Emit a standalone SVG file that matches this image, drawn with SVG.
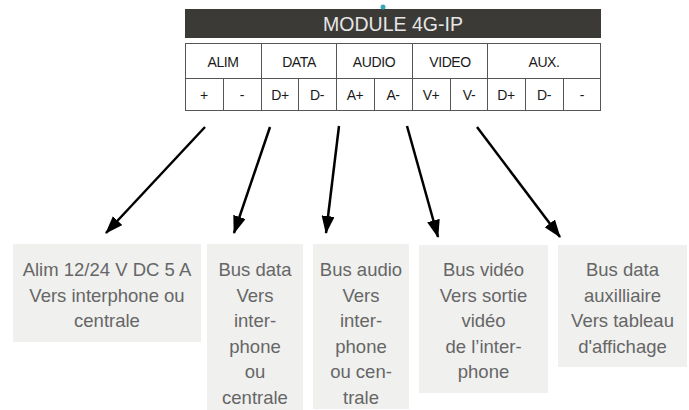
<svg xmlns="http://www.w3.org/2000/svg" width="689" height="410" viewBox="0 0 689 410">
<style>
.cell{fill:#fff;stroke:#555;stroke-width:1}
.tt{font-family:"Liberation Sans",Arial,sans-serif;font-size:14px;fill:#1a1a1a;text-anchor:middle;letter-spacing:-0.4px}
.bx{fill:#f0f0ef}
.bt{font-family:"Liberation Sans",Arial,sans-serif;font-size:18.5px;fill:#666;text-anchor:middle}
.ar{stroke:#000;stroke-width:2.5;fill:none;marker-end:url(#ah)}
</style>
<defs>
<marker id="ah" markerUnits="userSpaceOnUse" viewBox="0 0 18 13" refX="17" refY="6.5" markerWidth="18" markerHeight="13" orient="auto">
<path d="M0,0 L18,6.5 L0,13 Z" fill="#000"/>
</marker>
</defs>
<rect width="689" height="410" fill="#fff"/>
<g id="module">
<rect x="185" y="9" width="416" height="29" fill="#3b3a36"/>
<text x="393" y="31" font-family="Liberation Sans,Arial,sans-serif" font-size="19.5" fill="#e6e6e6" text-anchor="middle">MODULE 4G-IP</text>
<circle cx="383" cy="7" r="2.5" fill="#3aa6b9"/>
</g>
<g id="table">
<rect class="cell" x="185.5" y="43.5" width="415" height="67"/>
<line x1="185.5" y1="78.5" x2="600.5" y2="78.5" stroke="#555"/>
<g stroke="#555" stroke-width="1">
<line x1="261.5" y1="43.5" x2="261.5" y2="110.5"/>
<line x1="336.5" y1="43.5" x2="336.5" y2="110.5"/>
<line x1="412.5" y1="43.5" x2="412.5" y2="110.5"/>
<line x1="487.5" y1="43.5" x2="487.5" y2="110.5"/>
<line x1="223.5" y1="78.5" x2="223.5" y2="110.5"/>
<line x1="298.5" y1="78.5" x2="298.5" y2="110.5"/>
<line x1="374.5" y1="78.5" x2="374.5" y2="110.5"/>
<line x1="450.5" y1="78.5" x2="450.5" y2="110.5"/>
<line x1="525.5" y1="78.5" x2="525.5" y2="110.5"/>
<line x1="563.5" y1="78.5" x2="563.5" y2="110.5"/>
</g>
<text class="tt" x="223" y="67">ALIM</text>
<text class="tt" x="299" y="67">DATA</text>
<text class="tt" x="374" y="67">AUDIO</text>
<text class="tt" x="450" y="67">VIDEO</text>
<text class="tt" x="544" y="67">AUX.</text>
<text class="tt" x="204" y="100">+</text>
<text class="tt" x="242" y="100">-</text>
<text class="tt" x="280" y="100">D+</text>
<text class="tt" x="317" y="100">D-</text>
<text class="tt" x="355" y="100">A+</text>
<text class="tt" x="393" y="100">A-</text>
<text class="tt" x="431" y="100">V+</text>
<text class="tt" x="469" y="100">V-</text>
<text class="tt" x="506" y="100">D+</text>
<text class="tt" x="544" y="100">D-</text>
<text class="tt" x="582" y="100">-</text>
</g>
<g id="connectors">
<line class="ar" x1="205" y1="127" x2="106" y2="233"/>
<line class="ar" x1="270" y1="127" x2="234" y2="233"/>
<line class="ar" x1="339" y1="126" x2="326" y2="233"/>
<line class="ar" x1="407" y1="126" x2="438" y2="237"/>
<line class="ar" x1="477" y1="127" x2="560" y2="237"/>
</g>
<g id="box-alim">
<rect class="bx" x="13" y="244" width="188" height="98"/>
<text class="bt" x="107" y="276">Alim 12/24 V DC 5 A</text>
<text class="bt" x="107" y="301.5">Vers interphone ou</text>
<text class="bt" x="107" y="327">centrale</text>
</g>
<g id="box-data">
<rect class="bx" x="207" y="244" width="96" height="166"/>
<text class="bt" x="255" y="276">Bus data</text>
<text class="bt" x="255" y="301.5">Vers</text>
<text class="bt" x="255" y="327">inter-</text>
<text class="bt" x="255" y="352.5">phone</text>
<text class="bt" x="255" y="378">ou</text>
<text class="bt" x="255" y="403.5">centrale</text>
</g>
<g id="box-audio">
<rect class="bx" x="313" y="244" width="96" height="165"/>
<text class="bt" x="361" y="276">Bus audio</text>
<text class="bt" x="361" y="301.5">Vers</text>
<text class="bt" x="361" y="327">inter-</text>
<text class="bt" x="361" y="352.5">phone</text>
<text class="bt" x="361" y="378">ou cen-</text>
<text class="bt" x="361" y="403.5">trale</text>
</g>
<g id="box-video">
<rect class="bx" x="419" y="245" width="129" height="148"/>
<text class="bt" x="483.5" y="276">Bus vidéo</text>
<text class="bt" x="483.5" y="301.5">Vers sortie</text>
<text class="bt" x="483.5" y="327">vidéo</text>
<text class="bt" x="483.5" y="352.5">de l’inter-</text>
<text class="bt" x="483.5" y="378">phone</text>
</g>
<g id="box-aux">
<rect class="bx" x="558" y="245" width="129" height="122"/>
<text class="bt" x="622.5" y="276">Bus data</text>
<text class="bt" x="622.5" y="301.5">auxilliaire</text>
<text class="bt" x="622.5" y="327">Vers tableau</text>
<text class="bt" x="622.5" y="352.5">d'affichage</text>
</g>
</svg>
